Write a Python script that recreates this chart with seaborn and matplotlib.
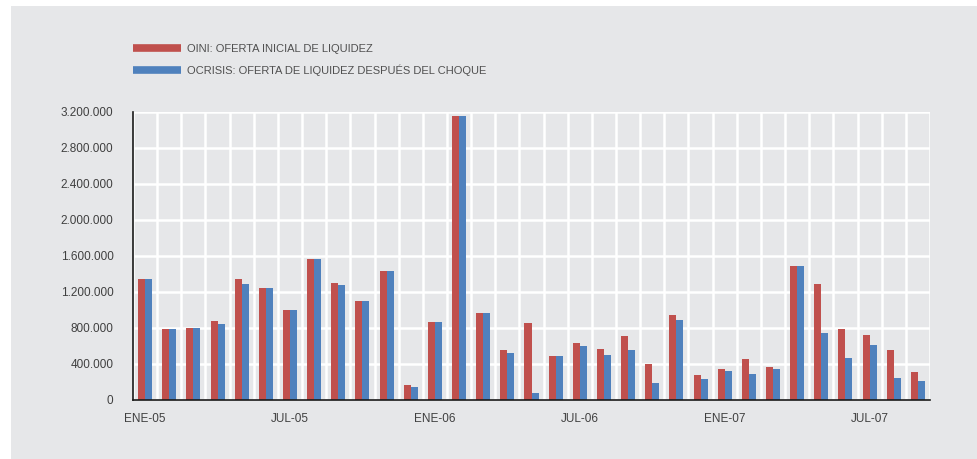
import pandas as pd
import seaborn as sns
import matplotlib.pyplot as plt
from matplotlib import ticker
from matplotlib.lines import Line2D
from matplotlib.patches import Rectangle

months = ['ENE-05', 'FEB-05', 'MAR-05', 'ABR-05', 'MAY-05', 'JUN-05', 'JUL-05', 'AGO-05',
          'SEP-05', 'OCT-05', 'NOV-05', 'DIC-05', 'ENE-06', 'FEB-06', 'MAR-06', 'ABR-06',
          'MAY-06', 'JUN-06', 'JUL-06', 'AGO-06', 'SEP-06', 'OCT-06', 'NOV-06', 'DIC-06',
          'ENE-07', 'FEB-07', 'MAR-07', 'ABR-07', 'MAY-07', 'JUN-07', 'JUL-07', 'AGO-07',
          'SEP-07']
oini = [1346000, 784000, 795000, 877000, 1346000, 1243000, 999000, 1572000,
        1295000, 1102000, 1435000, 163000, 866000, 3159000, 962000, 555000,
        855000, 488000, 633000, 570000, 707000, 400000, 943000, 281000,
        344000, 455000, 366000, 1487000, 1287000, 788000, 721000, 559000,
        311000]
ocrisis = [1346000, 784000, 795000, 840000, 1287000, 1243000, 999000, 1572000,
           1280000, 1102000, 1435000, 148000, 866000, 3159000, 962000, 522000,
           81000, 488000, 596000, 499000, 551000, 189000, 892000, 233000,
           318000, 289000, 344000, 1487000, 747000, 466000, 607000, 244000,
           211000]
shown_ticks = ['ENE-05', 'JUL-05', 'ENE-06', 'JUL-06', 'ENE-07', 'JUL-07']
series_names = ['OINI: OFERTA INICIAL DE LIQUIDEZ',
                'OCRISIS: OFERTA DE LIQUIDEZ DESPUÉS DEL CHOQUE']
colors = ['#c0504d', '#4f81bd']

df = pd.DataFrame({'mes': months * 2,
                   'valor': oini + ocrisis,
                   'serie': [series_names[0]] * len(months) + [series_names[1]] * len(months)})

plt.rcParams['font.family'] = ['Liberation Sans', 'DejaVu Sans']
bg = '#e6e7e9'
fig = plt.figure(figsize=(9.78, 4.59), dpi=100)
fig.patch.set_facecolor('white')
fig.add_artist(Rectangle((11 / 978, 0), 1, (459 - 6) / 459, transform=fig.transFigure,
                         facecolor=bg, edgecolor='none', zorder=0))

ax = fig.add_axes([133 / 978, (459 - 400) / 459, (930 - 133) / 978, 288 / 459])
ax.set_facecolor(bg)
sns.barplot(data=df, x='mes', y='valor', hue='serie', order=months,
            palette=colors, width=0.58, gap=0, linewidth=0, saturation=1,
            legend=False, ax=ax)

ax.set_xlim(-0.5, len(months) - 0.5)
ax.set_ylim(0, 3200000)
ax.yaxis.set_major_locator(ticker.MultipleLocator(400000))
ax.yaxis.set_major_formatter(ticker.FuncFormatter(lambda v, p: f'{int(v):,}'.replace(',', '.')))
ax.set_xticks([months.index(m) for m in shown_ticks])
ax.set_xticklabels(shown_ticks)
ax.set_xticks([i - 0.5 for i in range(len(months) + 1)], minor=True)

ax.set_axisbelow(True)
ax.grid(True, axis='y', which='major', color='white', linewidth=1.8)
ax.grid(True, axis='x', which='minor', color='white', linewidth=1.8)
ax.grid(False, axis='x', which='major')
ax.tick_params(axis='both', which='both', length=0, colors='#404040', labelsize=8.5)
ax.tick_params(axis='y', pad=14)
ax.tick_params(axis='x', pad=9)
ax.set_xlabel('')
ax.set_ylabel('')
for s in ['top', 'right']:
    ax.spines[s].set_visible(False)
for s in ['left', 'bottom']:
    ax.spines[s].set_color('#1a1a1a')
    ax.spines[s].set_linewidth(1.2)

handles = [Line2D([], [], color=c, linewidth=5.5, solid_capstyle='butt') for c in colors]
fig.legend(handles, series_names, loc='upper left',
           bbox_to_anchor=(133 / 978, (459 - 44) / 459), frameon=False,
           fontsize=8, handlelength=4.3, handletextpad=0.6, labelspacing=0.95,
           borderpad=0, borderaxespad=0, labelcolor='#505050')

fig.savefig('out.png', dpi=100, facecolor='white')
